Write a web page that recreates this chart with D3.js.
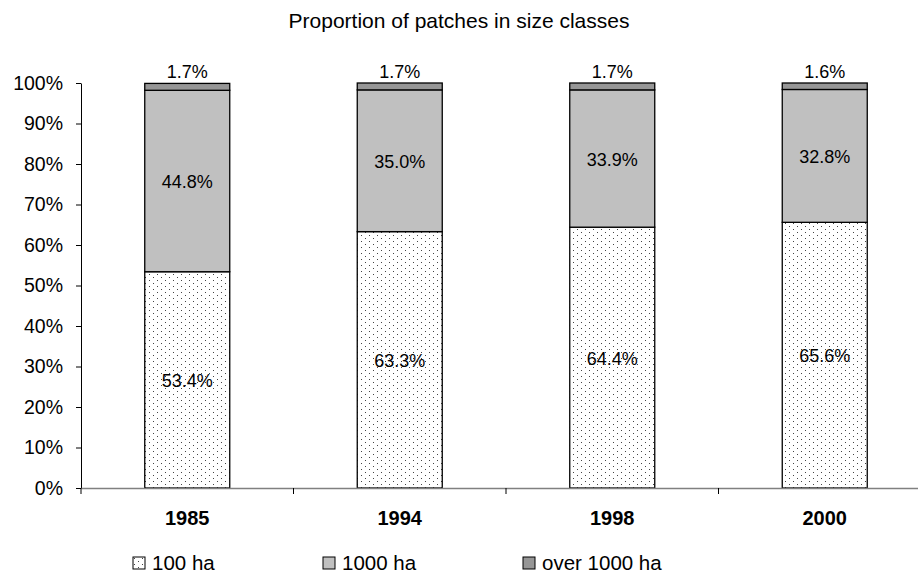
<!DOCTYPE html>
<html>
<head>
<meta charset="utf-8">
<script src="https://cdn.jsdelivr.net/npm/d3@7"></script>
<style>
  body { margin: 0; background: #fff; }
  svg text { font-family: "Liberation Sans", Arial, sans-serif; fill: #000; }
</style>
</head>
<body>
<div class="chart-container"></div>
<script>
//! DATA
const years = ['1985', '1994', '1998', '2000'];
const seriesNames = ['100 ha', '1000 ha', 'over 1000 ha'];
const small = [53.4, 63.3, 64.4, 65.6];
const medium = [44.8, 35.0, 33.9, 32.8];
const large = [1.7, 1.7, 1.7, 1.6];
const yTicks = [0, 10, 20, 30, 40, 50, 60, 70, 80, 90, 100];

//! CONSTS
const width = 918;
const height = 576;

const svg = d3.select('.chart-container')
  .append('svg')
  .attr('width', width)
  .attr('height', height);

// dotted fill for the smallest class
const defs = svg.append('defs');
const pat = defs.append('pattern')
  .attr('id', 'dots')
  .attr('patternUnits', 'userSpaceOnUse')
  .attr('width', 8)
  .attr('height', 6);
pat.append('rect').attr('width', 8).attr('height', 6).attr('fill', '#fff');
pat.append('rect').attr('x', 1).attr('y', 1).attr('width', 1).attr('height', 1).attr('fill', '#444');
pat.append('rect').attr('x', 5).attr('y', 4).attr('width', 1).attr('height', 1).attr('fill', '#444');

const fills = ['url(#dots)', '#c0c0c0', '#969696'];

const rows = years.map((y, i) => ({ year: y, s0: small[i], s1: medium[i], s2: large[i] }));
const stack = d3.stack().keys(['s0', 's1', 's2'])(rows);

//! SCALES
const xScale = d3.scaleBand()
  .domain(years)
  .range([81, 931])
  .paddingInner(0.6)
  .paddingOuter(0.3);

const yScale = d3.scaleLinear()
  .domain([0, 100])
  .range([488, 83]);

// title
svg.append('text')
  .attr('x', 459)
  .attr('y', 28)
  .attr('text-anchor', 'middle')
  .style('font-size', '21px')
  .text('Proportion of patches in size classes');

//! AXIS
const yAxis = d3.axisLeft(yScale)
  .tickValues(yTicks)
  .tickFormat((d) => d + '%')
  .tickSize(5)
  .tickSizeOuter(0);

const gy = svg.append('g')
  .attr('transform', 'translate(81,0)')
  .call(yAxis);
gy.select('.domain').attr('stroke', '#000');
gy.selectAll('.tick line').attr('stroke', '#000');
gy.selectAll('.tick text')
  .attr('x', -18)
  .style('font-size', '19.5px')
  .style('font-family', '"Liberation Sans", Arial, sans-serif');

// bars
svg.append('g')
  .selectAll('g')
  .data(stack)
  .enter()
  .append('g')
  .attr('fill', (d, i) => fills[i])
  .selectAll('rect')
  .data((d) => d)
  .enter()
  .append('rect')
  .attr('x', (d) => xScale(d.data.year))
  .attr('y', (d) => yScale(d[1]))
  .attr('width', xScale.bandwidth())
  .attr('height', (d) => yScale(d[0]) - yScale(d[1]))
  .attr('stroke', '#000')
  .attr('stroke-width', 1.3);

// x axis line + category separators
const xAxis = d3.axisBottom(xScale)
  .tickSize(0)
  .tickSizeOuter(0)
  .tickFormat('');
const gx = svg.append('g')
  .attr('transform', 'translate(0,488)')
  .call(xAxis);
gx.select('.domain').attr('stroke', '#808080').attr('stroke-width', 1.3);

const gap = (xScale.step() - xScale.bandwidth()) / 2;
svg.append('g')
  .selectAll('line')
  .data(years.slice(1))
  .enter()
  .append('line')
  .attr('x1', (d) => xScale(d) - gap)
  .attr('x2', (d) => xScale(d) - gap)
  .attr('y1', 488)
  .attr('y2', 494)
  .attr('stroke', '#000');
svg.append('line')
  .attr('x1', 81).attr('x2', 81).attr('y1', 488).attr('y2', 494)
  .attr('stroke', '#000');

// category labels
svg.append('g')
  .selectAll('text')
  .data(years)
  .enter()
  .append('text')
  .attr('x', (d) => xScale(d) + xScale.bandwidth() / 2)
  .attr('y', 525)
  .attr('text-anchor', 'middle')
  .style('font-size', '20px')
  .style('font-weight', 'bold')
  .text((d) => d);

// value labels
const fmt = (v) => v.toFixed(1) + '%';
stack.forEach((layer, li) => {
  svg.append('g')
    .selectAll('text')
    .data(layer)
    .enter()
    .append('text')
    .attr('x', (d) => xScale(d.data.year) + xScale.bandwidth() / 2)
    .attr('y', (d) => li === 2 ? yScale(d[1]) - 5 : yScale((d[0] + d[1]) / 2) + 7)
    .attr('text-anchor', 'middle')
    .style('font-size', '18px')
    .text((d) => fmt(d[1] - d[0]));
});

//! LEGEND
const legendX = [133, 323, 523];
const legend = svg.append('g')
  .selectAll('g')
  .data(seriesNames)
  .enter()
  .append('g')
  .attr('transform', (d, i) => `translate(${legendX[i]},557)`);
legend.append('rect')
  .attr('width', 12)
  .attr('height', 12)
  .attr('fill', (d, i) => fills[i])
  .attr('stroke', '#000')
  .attr('stroke-width', 1);
legend.append('text')
  .attr('x', 19)
  .attr('y', 13)
  .style('font-size', '20.5px')
  .text((d) => d);
</script>
</body>
</html>
